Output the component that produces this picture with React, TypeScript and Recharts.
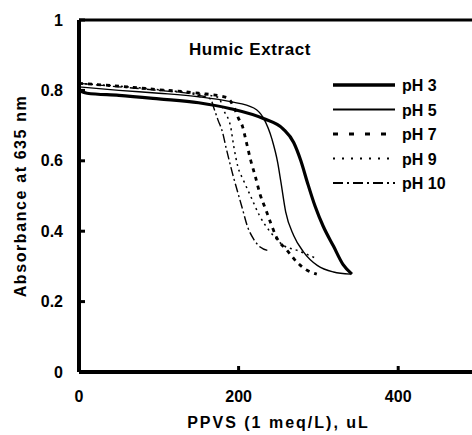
import { Label, Line, LineChart, ReferenceLine, XAxis, YAxis } from "recharts";

// PPVS added (uL) vs absorbance at 635 nm
const ph3: [number, number][] = [
  [0, 0.8], [10, 0.792], [50, 0.786], [100, 0.776], [150, 0.765], [190, 0.748],
  [231, 0.72], [256, 0.69], [269, 0.652], [278, 0.6], [286, 0.54], [296, 0.47],
  [306, 0.414], [319, 0.357], [331, 0.305], [342, 0.278],
];
const ph5: [number, number][] = [
  [0, 0.81], [50, 0.8], [100, 0.792], [150, 0.782], [190, 0.768], [219, 0.75],
  [231, 0.722], [242, 0.66], [249, 0.595], [253, 0.54], [259, 0.455], [269, 0.388],
  [281, 0.342], [299, 0.302], [319, 0.284], [340, 0.278],
];
const ph7: [number, number][] = [
  [0, 0.82], [50, 0.812], [100, 0.802], [150, 0.792], [185, 0.78], [195, 0.748],
  [200, 0.72], [205, 0.697], [209, 0.66], [215, 0.603], [221, 0.555], [227, 0.504],
  [234, 0.462], [240, 0.425], [247, 0.385], [261, 0.345], [274, 0.31], [285, 0.29],
  [298, 0.278],
];
const ph9: [number, number][] = [
  [0, 0.82], [50, 0.812], [100, 0.802], [150, 0.79], [175, 0.78], [181, 0.745],
  [190, 0.697], [194, 0.64], [199, 0.584], [206, 0.545], [215, 0.5], [226, 0.445],
  [240, 0.397], [256, 0.36], [274, 0.345], [295, 0.325],
];
const ph10: [number, number][] = [
  [0, 0.82], [50, 0.81], [100, 0.8], [150, 0.786], [165, 0.775], [169, 0.75],
  [174, 0.717], [180, 0.68], [184, 0.64], [188, 0.603], [192, 0.567], [199, 0.51],
  [205, 0.462], [211, 0.414], [219, 0.377], [227, 0.355], [237, 0.345],
];

const xTicks = [0, 200, 400];
const yTicks = [0, 0.2, 0.4, 0.6, 0.8, 1];

const font = "'Liberation Sans', Arial, Helvetica, sans-serif";

const series = [
  { name: "pH 3", points: ph3, width: 3.2, dash: undefined, legendDash: undefined },
  { name: "pH 5", points: ph5, width: 1.4, dash: undefined, legendDash: undefined },
  { name: "pH 7", points: ph7, width: 2.8, dash: "4 5", legendDash: "5 11" },
  { name: "pH 9", points: ph9, width: 1.5, dash: "2 4", legendDash: "2 7" },
  { name: "pH 10", points: ph10, width: 1.4, dash: "9 3 2 3", legendDash: "10 4 2 4" },
];

function toRows(points: [number, number][]) {
  return points.map(([x, y]) => ({ x, y }));
}

// drawn beside the chart so it doesn't eat plot width
function LegendBox() {
  return (
    <svg width={135} height={125}>
      {series.map((s, i) => {
        const y = 10 + i * 24.5;
        return (
          <g key={s.name}>
            <line
              x1={0}
              x2={62}
              y1={y}
              y2={y}
              stroke="#000"
              strokeWidth={s.width + 0.4}
              strokeDasharray={s.legendDash}
            />
            <text
              x={69}
              y={y + 6}
              fontSize={16}
              fontWeight={700}
              fontFamily={font}
              fill="#000"
            >
              {s.name}
            </text>
          </g>
        );
      })}
    </svg>
  );
}

export default function App() {
  return (
    <div
      style={{
        position: "absolute",
        left: 0,
        top: 0,
        width: 472,
        height: 435,
        overflow: "hidden",
        background: "#fff",
      }}
    >
      <LineChart
        width={480}
        height={435}
        margin={{ top: 20, right: 2, bottom: 0, left: 0 }}
      >
        <XAxis
          type="number"
          dataKey="x"
          domain={[0, 500]}
          ticks={xTicks}
          allowDataOverflow
          height={63}
          axisLine={{ stroke: "#000", strokeWidth: 4 }}
          tickLine={{ stroke: "#000", strokeWidth: 3 }}
          tickSize={-6}
          tickMargin={25}
          tick={{ fill: "#000", fontSize: 16, fontWeight: 700, fontFamily: font }}
        >
          <Label
            value="PPVS (1 meq/L), uL"
            position="insideBottom"
            offset={7}
            style={{ fill: "#000", fontSize: 16, fontWeight: 700, fontFamily: font, letterSpacing: 2 }}
          />
        </XAxis>
        <YAxis
          type="number"
          domain={[0, 1]}
          ticks={yTicks}
          width={79}
          axisLine={{ stroke: "#000", strokeWidth: 4 }}
          tickLine={{ stroke: "#000", strokeWidth: 3 }}
          tickSize={-6}
          tickMargin={22}
          tick={{ fill: "#000", fontSize: 16, fontWeight: 700, fontFamily: font }}
        >
          <Label
            value="Absorbance at 635 nm"
            angle={-90}
            position="center"
            dx={-19}
            style={{ fill: "#000", fontSize: 16, fontWeight: 700, fontFamily: font, letterSpacing: 1.6, textAnchor: "middle" }}
          />
        </YAxis>
        <ReferenceLine y={1} stroke="#000" strokeWidth={3} />
        {series.map((s) => (
          <Line
            key={s.name}
            data={toRows(s.points)}
            dataKey="y"
            name={s.name}
            type="monotone"
            stroke="#000"
            strokeWidth={s.width}
            strokeDasharray={s.dash}
            dot={false}
            activeDot={false}
            isAnimationActive={false}
          />
        ))}
      </LineChart>
      <div
        style={{
          position: "absolute",
          left: 250,
          top: 50,
          transform: "translate(-50%, -50%)",
          fontFamily: font,
          fontWeight: 700,
          fontSize: 17,
          letterSpacing: 0.6,
          whiteSpace: "nowrap",
        }}
      >
        Humic Extract
      </div>
      <div style={{ position: "absolute", left: 333, top: 75 }}>
        <LegendBox />
      </div>
    </div>
  );
}
